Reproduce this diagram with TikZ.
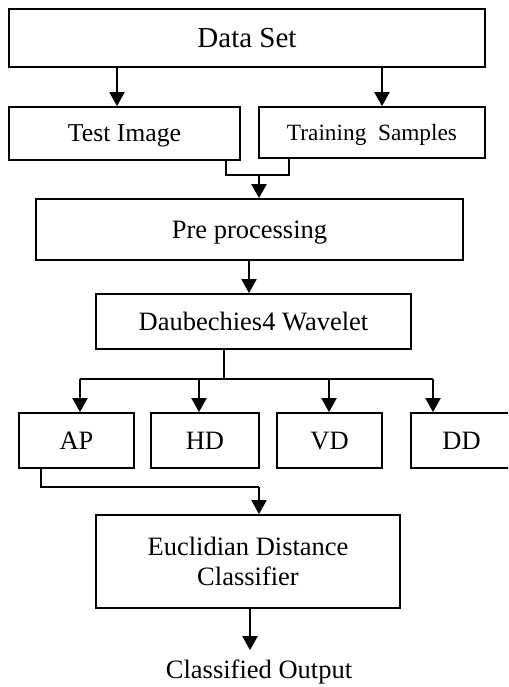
\documentclass[tikz,border=0pt]{standalone}
\usepackage{fontspec}
\setmainfont{Liberation Serif}
\usetikzlibrary{arrows.meta}
\begin{document}
\begin{tikzpicture}[x=1pt,y=-1pt,
  box/.style={draw,line width=1.8pt,inner sep=0pt,align=center,font=\fontsize{26.5}{30}\selectfont},
  one/.style={text height=#1,text depth=0pt},
  one/.default=17.5pt,
  arr/.style={line width=2.2pt,-{Triangle[width=15pt,length=14pt]}},
  link/.style={line width=1.6pt},
  lbl/.style={inner sep=9pt,font=\fontsize{26.5}{30}\selectfont}]
\clip (0,0) rectangle (508,687);
\fill[white] (0,0) rectangle (508,687);
% nodes
\node[box,one=19.2pt,minimum width=476pt,minimum height=58pt,font=\fontsize{29}{32}\selectfont] (ds) at (247,38) {Data Set};
\node[box,one=17pt,minimum width=231pt,minimum height=53pt,font=\fontsize{25.7}{29}\selectfont] (ti) at (124.5,133.5) {Test Image};
\node[box,one=15.4pt,minimum width=226pt,minimum height=51pt,font=\fontsize{23.3}{27}\selectfont] (ts) at (372,132.5) {Training\hspace{0.5em}Samples};
\node[box,one,minimum width=427pt,minimum height=61pt] (pp) at (249.5,229.5) {Pre processing};
\node[box,one,minimum width=315pt,minimum height=55pt] (dw) at (253.5,321.5) {Daubechies4 Wavelet};
\node[box,one,minimum width=115pt,minimum height=55pt] (ap) at (76.5,440.5) {AP};
\node[box,one,minimum width=108pt,minimum height=55pt] (hd) at (205,440.5) {HD};
\node[box,one,minimum width=105pt,minimum height=55pt] (vd) at (329.5,440.5) {VD};
\node[box,one,minimum width=101pt,minimum height=55pt] (dd) at (461.5,440.5) {DD};
\node[box,minimum width=304pt,minimum height=93pt] (eu) at (248,561.5) {Euclidian Distance\\Classifier};
\node[lbl,anchor=base] (co) at (259,678) {Classified Output};
% helper coordinates
\coordinate (xa) at (117,0);
\coordinate (xb) at (382,0);
\coordinate (xc) at (226,175);
\coordinate (xd) at (289,175);
\coordinate (xe) at (259,175);
\coordinate (xf) at (249,0);
\coordinate (xg) at (224,379);
\coordinate (xh) at (80,379);
\coordinate (xi) at (199,379);
\coordinate (xj) at (329,379);
\coordinate (xk) at (433,379);
\coordinate (xl) at (41,487);
\coordinate (xm) at (259,487);
\coordinate (xn) at (250,0);
% connectors
\draw[arr] (ds.south -| xa) -- (ti.north -| xa);
\draw[arr] (ds.south -| xb) -- (ts.north -| xb);
\draw[link] (ti.south -| xc) -- (xc) -- (xd) -- (ts.south -| xd);
\draw[arr] (xe) -- (pp.north -| xe);
\draw[arr] (pp.south -| xf) -- (dw.north -| xf);
\draw[link] (dw.south -| xg) -- (xg);
\draw[link] (xh) -- (xk);
\draw[arr] (xh) -- (ap.north -| xh);
\draw[arr] (xi) -- (hd.north -| xi);
\draw[arr] (xj) -- (vd.north -| xj);
\draw[arr] (xk) -- (dd.north -| xk);
\draw[link] (ap.south -| xl) -- (xl) -- (xm);
\draw[arr] (xm) -- (eu.north -| xm);
\draw[arr] (eu.south -| xn) -- (co.north -| xn);
\end{tikzpicture}
\end{document}
